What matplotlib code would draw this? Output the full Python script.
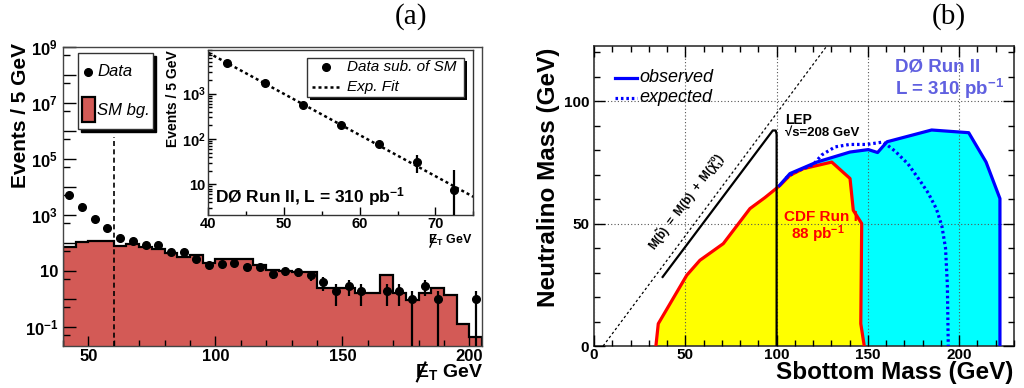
import numpy as np
import matplotlib
matplotlib.use('Agg')
import matplotlib.pyplot as plt
from matplotlib.patches import Rectangle
from matplotlib.lines import Line2D
from matplotlib.ticker import FixedLocator, FuncFormatter, NullFormatter

plt.rcParams['font.family'] = ['Liberation Sans', 'DejaVu Sans']
plt.rcParams['font.weight'] = 'bold'
plt.rcParams['mathtext.fontset'] = 'custom'
plt.rcParams['mathtext.rm'] = 'Liberation Sans'
plt.rcParams['mathtext.it'] = 'Liberation Sans:italic'
plt.rcParams['mathtext.bf'] = 'Liberation Sans:bold'
plt.rcParams['mathtext.fallback'] = 'stixsans'

# ---------------- panel (a): missing ET distribution ----------------
met_edges = [40, 45, 50, 55, 60, 65, 70, 75, 80, 85, 90, 95, 100, 105, 110, 115, 120,
             125, 130, 135, 140, 145, 150, 155, 160, 165, 170, 175, 180, 185, 190, 195,
             200, 205]
sm_bg = [75, 112, 121, 118, 80, 90, 74, 61, 43, 31, 37, 19, 27, 27, 26, 17, 11,
         10, 9, 9, 2.4, 2.5, 2.4, 1.6, 1.6, 7.2, 1.6, 0.9, 1.6, 2.4, 1.4, 0.126, 0.045]
met_centers = [42.5, 47.5, 52.5, 57.5, 62.5, 67.5, 72.5, 77.5, 82.5, 87.5, 92.5, 97.5,
               102.5, 107.5, 112.5, 117.5, 122.5, 127.5, 132.5, 137.5, 142.5, 147.5,
               152.5, 157.5, 162.5, 167.5, 172.5, 177.5, 182.5, 187.5, 192.5, 197.5, 202.5]
data_counts = [5150, 1870, 700, 340, 155, 120, 85, 85, 49, 47, 26, 16,
               18, 20, 14, 14, 8, 10, 9, 7, 4, 2,
               3, 2, np.nan, 2, 2, 1, 3, 1, np.nan, np.nan, 1]
met_cut = 60
met_cut_top = 6e5

# inset: data after SM subtraction + exponential fit
inset_x = [42.5, 47.5, 52.5, 57.5, 62.5, 67.5, 72.5]
inset_y = [4730, 1710, 552, 200, 76, 31.5, 7.6]
inset_err = [70, 42, 27, 19, 13, 13.5, 12.8]
fit_x = [40, 75]
fit_y = [7900, 5.3]

# ---------------- panel (b): exclusion plane ----------------
kin_x = [5, 127.5]
kin_y = [0, 122.5]
lep_x = [37.6, 97.9, 99.5, 100, 100]
lep_y = [28.2, 88, 88, 86.5, 0]
cdf_x = [33.9, 35.2, 50.8, 58.0, 70.8, 85.4, 93.6, 101.9, 107.3, 114.6, 130.2, 140.2,
         142.0, 146.6, 146.1, 148.0]
cdf_y = [0, 9.1, 28.9, 35.0, 41.8, 56.1, 60.6, 65.6, 69.7, 72.4, 75.1, 68.4,
         55.4, 50.0, 9.1, 0]
obs_x = [101.5, 107.3, 122.0, 140.2, 150.2, 155.3, 160.5, 184.9, 205.2, 214.7, 222.3, 222.3]
obs_y = [65.5, 70.4, 75.1, 79.2, 80.2, 79.0, 83.4, 88.2, 87.1, 75.1, 60.2, 0]
exp_x = [105, 110, 115, 120, 124.7, 132, 140, 149.3, 158.4, 165, 172, 178.5, 183,
         187.5, 190.5, 192.5, 193.5, 194]
exp_y = [68.5, 71, 72.5, 74, 78, 81.3, 82.3, 82.3, 83.3, 79.5, 74.3, 67.5, 62.5,
         56, 49, 40, 25, 0]

RED_FILL = '#d35a56'
DZERO_COL = '#6060e0'

W, H = 1024, 388
fig = plt.figure(figsize=(W / 100, H / 100), dpi=100)


def fxp(px):
    return px / W


def fyp(py):
    return 1 - py / H


def add_axes_px(x0, y0, x1, y1, **kw):
    return fig.add_axes([fxp(x0), fyp(y1), (x1 - x0) / W, (y1 - y0) / H], **kw)


met_labels = []


def met_label(x_right, y, size, z=4):
    t = fig.text(fxp(x_right), fyp(y), r'E$_{\mathbf{T}}$ GeV', ha='right', va='center',
                 fontsize=size, fontweight='bold', zorder=z)
    met_labels.append((t, size, z))


# ====================== panel (a) ======================
ax = add_axes_px(63, 47, 482, 346)
ymin_a, ymax_a = 0.021, 1e9
ax.set_yscale('log')
ax.set_xlim(met_edges[0], met_edges[-1])
ax.set_ylim(ymin_a, ymax_a)

ax.stairs(sm_bg, met_edges, baseline=1e-4, fill=True, color=RED_FILL, zorder=1)
ax.stairs(sm_bg, met_edges, baseline=1e-4, fill=False, color='black', lw=1.6, zorder=2)

dc = np.array(data_counts, dtype=float)
err = np.sqrt(dc)
lo = np.minimum(err, dc * 0.9999)
ax.errorbar(met_centers, dc, yerr=[lo, err], fmt='o', color='black', ms=5.5,
            elinewidth=1.6, capsize=0, zorder=3)
ax.plot([met_cut, met_cut], [ymin_a, met_cut_top], color='black', lw=1.2,
        ls=(0, (3, 2)), zorder=3)

ax.xaxis.set_major_locator(FixedLocator([50, 100, 150, 200]))
ax.xaxis.set_minor_locator(FixedLocator(list(range(40, 206, 10))))
dec = [10.0 ** k for k in range(-2, 10)]
ax.yaxis.set_major_locator(FixedLocator(dec))
ax.yaxis.set_minor_locator(FixedLocator([5 * 10.0 ** k for k in range(-2, 9)]))


def fmt_a(v, pos):
    k = int(round(np.log10(v)))
    if k % 2 == 0:
        return ''
    if k == 1:
        return '10'
    return r'$\mathbf{10^{%d}}$' % k


ax.yaxis.set_major_formatter(FuncFormatter(fmt_a))
ax.yaxis.set_minor_formatter(NullFormatter())
ax.tick_params(which='both', direction='in', labelsize=12, width=1)
ax.tick_params(axis='y', which='major', length=9)
ax.tick_params(axis='y', which='minor', length=5)
ax.tick_params(axis='x', which='major', length=7, pad=2)
ax.tick_params(axis='x', which='minor', length=4)
for sp in ax.spines.values():
    sp.set_linewidth(1.0)
    sp.set_color('#444444')

fig.text(fxp(21), fyp(43), 'Events / 5 GeV', rotation=90, ha='center', va='top',
         fontsize=15, fontweight='bold')
met_label(483, 372, 14)

# legend of panel (a)
fig.add_artist(Rectangle((fxp(81), fyp(132)), 75 / W, 76 / H, transform=fig.transFigure,
                         facecolor='black', edgecolor='black', zorder=5))
fig.add_artist(Rectangle((fxp(78), fyp(129)), 75 / W, 76 / H, transform=fig.transFigure,
                         facecolor='white', edgecolor='#333333', lw=1, zorder=6))
fig.add_artist(Line2D([fxp(88)], [fyp(72)], transform=fig.transFigure, marker='o',
                      color='black', ms=5.5, zorder=7))
fig.text(fxp(97), fyp(72), 'Data', ha='left', va='center', fontsize=12,
         fontstyle='italic', fontweight='normal', zorder=7)
fig.add_artist(Rectangle((fxp(82), fyp(122)), 13 / W, 25 / H, transform=fig.transFigure,
                         facecolor=RED_FILL, edgecolor='black', lw=1.6, zorder=7))
fig.text(fxp(97), fyp(110), 'SM bg.', ha='left', va='center', fontsize=12,
         fontstyle='italic', fontweight='normal', zorder=7)

# inset
axi = add_axes_px(208.3, 50, 473.3, 215, zorder=3)
axi.set_facecolor('white')
axi.set_yscale('log')
axi.set_xlim(40, 75)
axi.set_ylim(2.1, 9100)
axi.errorbar(inset_x, inset_y, yerr=inset_err, fmt='o', color='black', ms=5.5,
             elinewidth=1.6, capsize=0, zorder=3)
axi.plot(fit_x, fit_y, color='black', lw=1.8, ls=(0, (1.2, 1.2)), zorder=2)
axi.xaxis.set_major_locator(FixedLocator([40, 50, 60, 70]))
axi.xaxis.set_minor_locator(FixedLocator([45, 55, 65, 75]))
axi.yaxis.set_major_locator(FixedLocator([10, 100, 1000]))
axi.yaxis.set_minor_locator(FixedLocator([m * 10.0 ** k for k in range(0, 4) for m in range(2, 10)]))
axi.yaxis.set_major_formatter(FuncFormatter(
    lambda v, p: '10' if v < 50 else r'$\mathbf{10^{%d}}$' % int(round(np.log10(v)))))
axi.yaxis.set_minor_formatter(NullFormatter())
axi.tick_params(which='both', direction='in', labelsize=10.5, width=1)
axi.tick_params(which='major', length=6)
axi.tick_params(which='minor', length=3)
axi.tick_params(axis='x', pad=1.5)
axi.tick_params(axis='y', pad=2)
for sp in axi.spines.values():
    sp.set_linewidth(1.0)
    sp.set_color('#333333')
fig.text(fxp(173), fyp(50), 'Events / 5 GeV', rotation=90, ha='center', va='top',
         fontsize=10, fontweight='bold', zorder=6)
met_label(473, 240, 9, z=6)
axi.text(0.025, 0.04, r'DØ Run II, L = 310 pb$^{\mathbf{-1}}$', transform=axi.transAxes,
         ha='left', va='bottom', fontsize=12.5, fontweight='bold')

# inset legend
fig.add_artist(Rectangle((fxp(309.7), fyp(99.7)), 157.3 / W, 38.4 / H,
                         transform=fig.transFigure, facecolor='black', zorder=5))
fig.add_artist(Rectangle((fxp(306.7), fyp(96.7)), 157.3 / W, 38.4 / H,
                         transform=fig.transFigure, facecolor='white',
                         edgecolor='#333333', lw=1, zorder=6))
fig.add_artist(Line2D([fxp(326)], [fyp(67)], transform=fig.transFigure, marker='o',
                      color='black', ms=5.5, zorder=7))
fig.text(fxp(346.7), fyp(67), 'Data sub. of SM', ha='left', va='center', fontsize=11,
         fontstyle='italic', fontweight='normal', zorder=7)
fig.add_artist(Line2D([fxp(312), fxp(340)], [fyp(87.3), fyp(87.3)], transform=fig.transFigure,
                      color='black', lw=1.8, ls=(0, (1.2, 1.2)), zorder=7))
fig.text(fxp(346.7), fyp(87.3), 'Exp. Fit', ha='left', va='center', fontsize=11,
         fontstyle='italic', fontweight='normal', zorder=7)

fig.text(fxp(411), fyp(17), '(a)', ha='center', va='center', fontsize=21,
         family='Liberation Serif', fontweight='normal')

# ====================== panel (b) ======================
bx = add_axes_px(594, 46, 1014, 346)
bx.set_xlim(0, 230)
bx.set_ylim(0, 122.5)
bx.fill(obs_x[:-1] + [obs_x[-1], obs_x[0]], obs_y[:-1] + [obs_y[-1], 0],
        color='#00ffff', lw=0, zorder=1)
bx.fill(cdf_x, cdf_y, color='#ffff00', lw=0, zorder=1.2)
bx.plot(cdf_x, cdf_y, color='#ff0000', lw=2.3, zorder=3)
bx.plot(obs_x, obs_y, color='#0000ff', lw=2.3, zorder=3.2)
bx.plot(exp_x, exp_y, color='#0000ff', lw=2.3, ls=(0, (0.8, 0.9)), zorder=3.4)
bx.plot(kin_x, kin_y, color='black', lw=0.9, ls=(0, (2, 2)), zorder=3)
bx.plot(lep_x, lep_y, color='black', lw=1.6, zorder=3.5)

bx.xaxis.set_major_locator(FixedLocator([0, 50, 100, 150, 200]))
bx.xaxis.set_minor_locator(FixedLocator(list(range(0, 231, 10))))
bx.yaxis.set_major_locator(FixedLocator([0, 50, 100]))
bx.yaxis.set_minor_locator(FixedLocator(list(range(0, 121, 10))))
bx.tick_params(which='both', direction='in', top=True, right=True, labelsize=11, width=1)
bx.tick_params(which='major', length=8)
bx.tick_params(which='minor', length=4)
bx.tick_params(axis='x', pad=1.5)
bx.set_axisbelow(False)
bx.grid(True, which='major', color='#555555', lw=0.8, ls=(0, (1, 2)))
for sp in bx.spines.values():
    sp.set_linewidth(1.2)
    sp.set_color('#333333')

# legend (b)
bx.plot([0.05, 0.103], [0.895, 0.895], transform=bx.transAxes, color='#0000ff', lw=2.3)
bx.text(0.108, 0.895, 'observed', transform=bx.transAxes, ha='left', va='center',
        fontsize=13, fontstyle='italic', fontweight='normal')
bx.plot([0.05, 0.103], [0.827, 0.827], transform=bx.transAxes, color='#0000ff', lw=2.3,
        ls=(0, (0.8, 0.9)))
bx.text(0.108, 0.827, 'expected', transform=bx.transAxes, ha='left', va='center',
        fontsize=13, fontstyle='italic', fontweight='normal')

bx.text(164.8, 113.8, 'DØ Run II', ha='left', va='center', fontsize=13.5,
        fontweight='bold', color=DZERO_COL)
bx.text(164.8, 105.0, r'L = 310 pb$^{\mathbf{-1}}$', ha='left', va='center', fontsize=13.5,
        fontweight='bold', color=DZERO_COL)
bx.text(104.6, 92.3, 'LEP', ha='left', va='center', fontsize=10, fontweight='bold')
bx.text(104.6, 86.8, '√s=208 GeV', ha='left', va='center', fontsize=9.5, fontweight='bold')
bx.text(124.3, 52.7, 'CDF Run I', ha='center', va='center', fontsize=11,
        fontweight='bold', color='#ff0000', zorder=6)
bx.text(122.7, 45.5, r'88 pb$^{\mathbf{-1}}$', ha='center', va='center', fontsize=11,
        fontweight='bold', color='#ff0000', zorder=6)
bx.text(50.9, 58.6, r'$\mathbf{M(\tilde{b})\ =\ M(b)\ +\ M(\tilde{\chi}^{0}_{1})}$',
        rotation=53.3, rotation_mode='anchor', ha='center', va='center', fontsize=8.5)

fig.text(fxp(548), fyp(48), 'Neutralino Mass (GeV)', rotation=90, ha='center', va='top',
         fontsize=17.5, fontweight='bold')
fig.text(fxp(1013), fyp(372), 'Sbottom Mass (GeV)', ha='right', va='center',
         fontsize=17.5, fontweight='bold')
fig.text(fxp(949), fyp(17), '(b)', ha='center', va='center', fontsize=21,
         family='Liberation Serif', fontweight='normal')

# slash across the E of the missing-ET labels (drawn as a line)
fig.canvas.draw()
rend = fig.canvas.get_renderer()
for t, size, z in met_labels:
    bb = t.get_window_extent(renderer=rend)
    em = size * 100 / 72.0
    base = bb.y0 + 0.16 * em
    top = base + 0.72 * em
    xs = [bb.x0 + 0.12 * em, bb.x0 + 0.55 * em]
    ys = [base - 0.12 * em, top + 0.12 * em]
    fig.add_artist(Line2D([v / W for v in xs], [v / H for v in ys],
                          transform=fig.transFigure, color='black',
                          lw=max(1.0, size / 9.0), zorder=z))

fig.savefig('out.png', dpi=100, facecolor='white')
